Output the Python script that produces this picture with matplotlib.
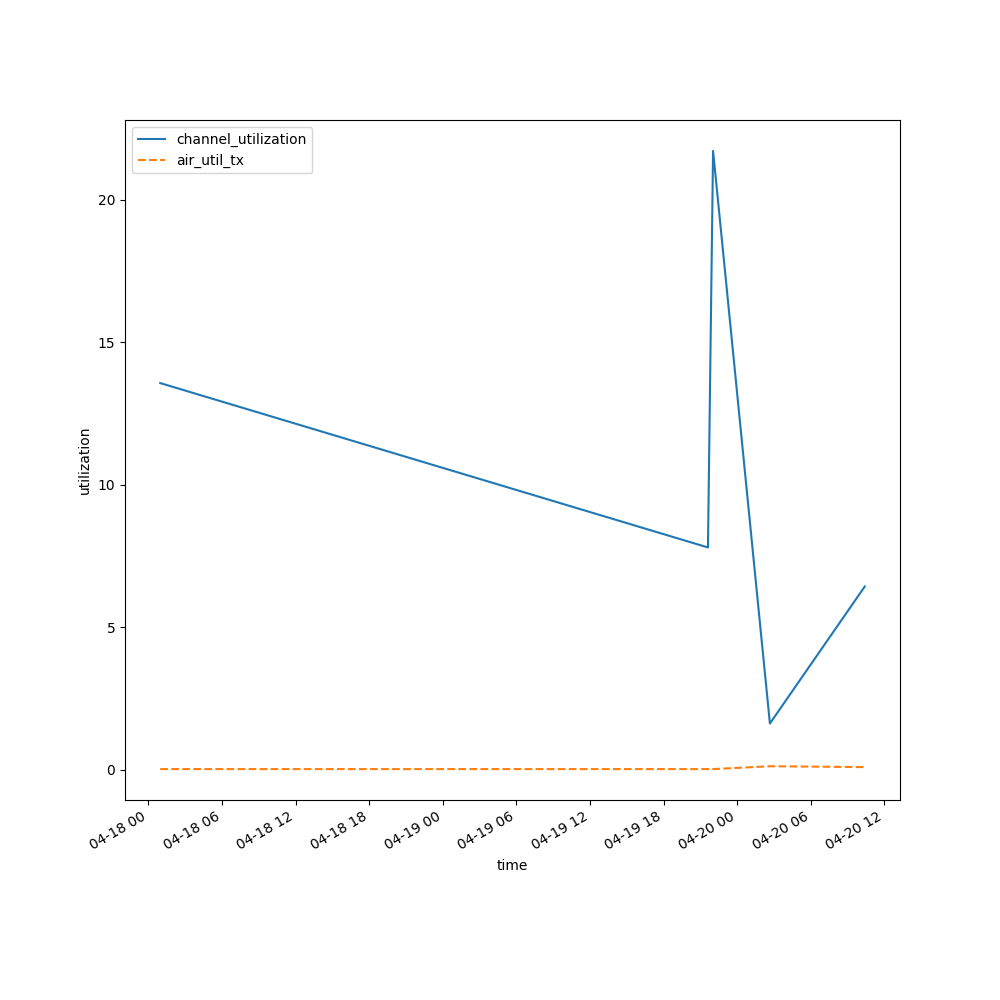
import matplotlib
matplotlib.use("Agg")
import matplotlib.pyplot as plt
import pandas as pd

times = pd.to_datetime([
    "2024-04-18 00:58",
    "2024-04-19 21:37",
    "2024-04-19 22:02",
    "2024-04-20 02:40",
    "2024-04-20 10:24",
])
channel_utilization = [13.57, 7.80, 21.72, 1.62, 6.43]
air_util_tx = [0.02, 0.02, 0.02, 0.12, 0.09]

fig, ax = plt.subplots(figsize=(10, 10), dpi=100)
ax.plot(times, channel_utilization, color="#1f77b4", linestyle="-", label="channel_utilization")
ax.plot(times, air_util_tx, color="#ff7f0e", linestyle="--", label="air_util_tx")
ax.set_xlabel("time")
ax.set_ylabel("utilization")
ax.legend(loc="upper left")
fig.autofmt_xdate()
fig.savefig("out.png", dpi=100)
